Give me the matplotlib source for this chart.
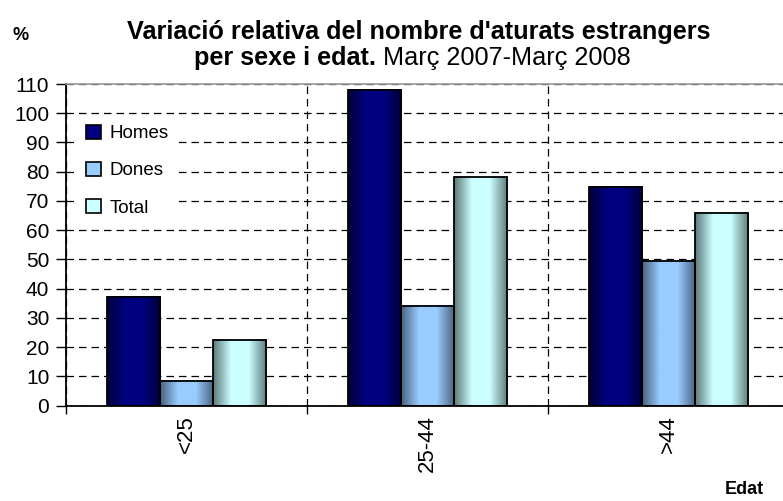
import matplotlib
matplotlib.use('Agg')
import matplotlib.pyplot as plt
from matplotlib.colors import LinearSegmentedColormap
from matplotlib.patches import Patch
import numpy as np

plt.rcParams['font.family'] = ['Liberation Sans', 'DejaVu Sans']

groups = ['<25', '25-44', '>44']
series = ['Homes', 'Dones', 'Total']
homes = [37.0, 108.0, 74.9]
dones = [8.5, 34.0, 49.6]
total = [22.5, 78.3, 65.9]
values = [homes, dones, total]

# edge colour, centre colour for the cylinder-like shading
shades = [('#00003c', '#000080'), ('#4a6380', '#99ccff'), ('#5e7b7b', '#ccffff')]
legend_faces = ['#000080', '#99ccff', '#ccffff']

fig = plt.figure(figsize=(7.83, 5.01), dpi=100)
ax = fig.add_axes([66/783, 95.5/501, 717/783, 321.5/501])

x = np.arange(len(groups))
w = 0.22
for i, (vals, (edge, centre)) in enumerate(zip(values, shades)):
    bars = ax.bar(x + (i - 1)*w, vals, w, color='none', edgecolor='black', lw=1.3, zorder=4)
    cmap = LinearSegmentedColormap.from_list('s%d' % i, [edge, centre, centre, edge])
    grad = np.linspace(0, 1, 64).reshape(1, -1)
    for b in bars:
        bx, by = b.get_x(), b.get_y()
        ax.imshow(grad, extent=[bx, bx + b.get_width(), by, by + b.get_height()],
                  aspect='auto', cmap=cmap, zorder=3, interpolation='bilinear')

ax.set_xlim(-0.5, 2.475)
ax.set_ylim(0, 110)
ax.set_yticks(np.arange(0, 111, 10))
ax.tick_params(axis='y', labelsize=15, length=7, width=1, direction='out', pad=5)

ax.set_xticks([-0.5, 0.5, 1.5])
ax.set_xticklabels([])
ax.tick_params(axis='x', which='major', length=6, width=1, direction='out')
ax.set_xticks(x, minor=True)
ax.set_xticklabels(groups, minor=True, rotation=90, fontsize=16)
ax.tick_params(axis='x', which='minor', length=0, pad=7)

ax.grid(True, which='major', color='black', ls=(0, (6, 4)), lw=0.9, zorder=1)
ax.set_axisbelow(True)

ax.spines['right'].set_visible(False)
ax.spines['top'].set_color('#999999')
ax.spines['top'].set_linewidth(1.2)
ax.spines['left'].set_linewidth(1.3)
ax.spines['bottom'].set_linewidth(1.3)

handles = [Patch(facecolor=c, edgecolor='black', lw=1.2) for c in legend_faces]
leg = ax.legend(handles, series, loc='upper left', bbox_to_anchor=(0.005, 0.925),
                frameon=True, facecolor='white', edgecolor='none', framealpha=1,
                fancybox=False, fontsize=13.5, handlelength=0.75, handleheight=0.75,
                handletextpad=0.5, labelspacing=1.05, borderpad=0.4)

fig.text(419/783, 1 - 32/501, "Variació relativa del nombre d'aturats estrangers",
         ha='center', va='center', fontsize=18.2, fontweight='bold')
t2 = fig.text(194/783, 1 - 70/501, "per sexe i edat.", ha='left', va='bottom',
              fontsize=18.2, fontweight='bold')
ax.annotate(" Març 2007-Març 2008", xy=(1, 0), xycoords=t2, ha='left', va='bottom',
            fontsize=18.2)

fig.text(21/783, 1 - 35/501, '%', ha='center', va='center', fontsize=13, fontweight='bold')
fig.text(744/783, 1 - 490/501, 'Edat', ha='center', va='center', fontsize=13, fontweight='bold')

fig.savefig('out.png', dpi=100)
